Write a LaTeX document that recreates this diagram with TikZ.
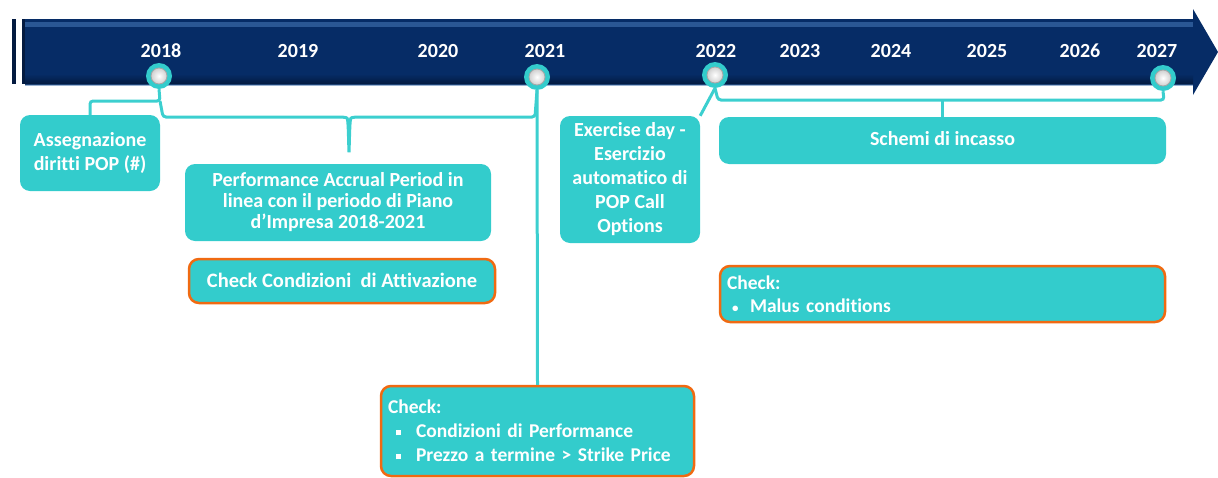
\documentclass[tikz,border=0pt]{standalone}
\usepackage{fontspec}
\setmainfont[Ligatures={NoCommon}]{Carlito}
\definecolor{tealbox}{HTML}{33CCCC}
\definecolor{tealline}{HTML}{3CCFCF}
\definecolor{navy}{HTML}{062C66}
\definecolor{navyhi}{HTML}{3A6AA8}
\definecolor{navydk}{HTML}{031A40}
\definecolor{orng}{HTML}{F06A12}
\tikzset{
  year/.style={text=white,font=\fontsize{20}{24}\selectfont\bfseries,inner sep=0pt},
  marker/.style={circle,fill=tealbox,minimum size=26pt,inner sep=0pt,
    path picture={\shade[inner color=white,outer color=gray!60,draw=gray!70,line width=0.8pt]
      (path picture bounding box.center) circle (8pt);}},
  box/.style={fill=tealbox,rounded corners=10pt,text=white,inner sep=0pt,
    font=\fontsize{20}{24}\selectfont\bfseries,align=center},
  obox/.style={box,draw=orng,line width=2.5pt},
  conn/.style={draw=tealline,line width=3pt,rounded corners=3pt},
}
\newcommand{\sqbul}{\makebox[24pt][l]{\hspace{8pt}\rule[2.5pt]{5pt}{5pt}}}
\newcommand{\rdbul}{\makebox[23pt][l]{\hspace{5pt}{\fontsize{13}{13}\selectfont •}}}
\begin{document}
\begin{tikzpicture}[x=1pt,y=-1pt]
\useasboundingbox (0,0) rectangle (1218,477);
% timeline bar
\fill[navydk] (12,19) rectangle (16,84);
\fill[navydk] (22,19) rectangle (25.5,84);
\fill[navy] (25,19) -- (1193,19) -- (1193,9) -- (1218,52) -- (1193,95) -- (1193,84) -- (25,84) -- cycle;
\fill[navyhi,opacity=0.7] (25,22) rectangle (1193,27);
\shade[top color=navy,bottom color=navydk] (25,74) rectangle (1193,84);
\fill[navyhi,opacity=0.5] (25,84) rectangle (1193,85.5);
% years
\node[year] (y18) at (161,51) {2018};
\node[year] (y19) at (298,51) {2019};
\node[year] (y20) at (438,51) {2020};
\node[year] (y21) at (545,51) {2021};
\node[year] (y22) at (716,51) {2022};
\node[year] (y23) at (800,51) {2023};
\node[year] (y24) at (891,51) {2024};
\node[year] (y25) at (987,51) {2025};
\node[year] (y26) at (1080,51) {2026};
\node[year] (y27) at (1157,51) {2027};
% boxes
\node[box,minimum width=140pt,minimum height=76pt] (ass) at (90,153) {Assegnazione\\diritti POP (\#)};
\node[box,minimum width=306pt,minimum height=77pt,font=\fontsize{20}{21}\selectfont\bfseries] (perf) at (338,202.5) {Performance Accrual Period in\\linea con il periodo di Piano\\d’Impresa 2018-2021};
\node[obox,minimum width=306pt,minimum height=44pt,font=\fontsize{20.5}{24}\selectfont\bfseries] (act) at (342,281) {\raisebox{2pt}{Check Condizioni\ \ di Attivazione}};
\node[box,minimum width=140pt,minimum height=127pt,font=\fontsize{20}{24}\selectfont\bfseries] (exe) at (630,179.5) {Exercise day -\\Esercizio\\automatico di\\POP Call\\Options};
\node[box,minimum width=447pt,minimum height=47pt] (sch) at (942.5,140.5) {\raisebox{4pt}{Schemi di incasso}};
\node[obox,minimum width=445pt,minimum height=56pt,align=left,text width=431pt,font=\fontsize{19.5}{23}\selectfont\bfseries] (mal) at (942.5,294) {Check:\\\rdbul Malus conditions};
\node[obox,minimum width=313pt,minimum height=90pt,align=left,text width=299pt,font=\fontsize{19.5}{24}\selectfont\bfseries] (chk) at (537.5,431) {Check:\\\sqbul\hspace{4pt}Condizioni di Performance\\\sqbul\hspace{4pt}Prezzo a termine > Strike Price};
% markers
\node[marker] (c18) at (159,76) {};
\node[marker] (c21) at (537,77) {};
\node[marker] (c22) at (715,75) {};
\node[marker] (c27) at (1163,78) {};
% connectors
\coordinate (k18) at (160,101);
\coordinate (b1) at (163,117);
\coordinate (bt) at (349,154);
\coordinate (b2) at (535,117);
\path[conn] (c18.south) -- (k18) -| (ass.north);
\path[conn] (k18) -- (b1) -- (343,117) .. controls (348,118) .. (bt) .. controls (350,118) .. (355,117) -- (b2) -- (c21.south);
\path[conn] (c21.south) -- (chk.north);
\path[conn] (c22.south) -- (exe.north east);
\coordinate (k22) at (718,100);
\coordinate (k27) at (1164,100);
\path[conn] (c22.south) -- (k22) -- (k27) -- (c27.south);
\path[conn] (sch.north |- k22) -- (sch.north);
\end{tikzpicture}
\end{document}
